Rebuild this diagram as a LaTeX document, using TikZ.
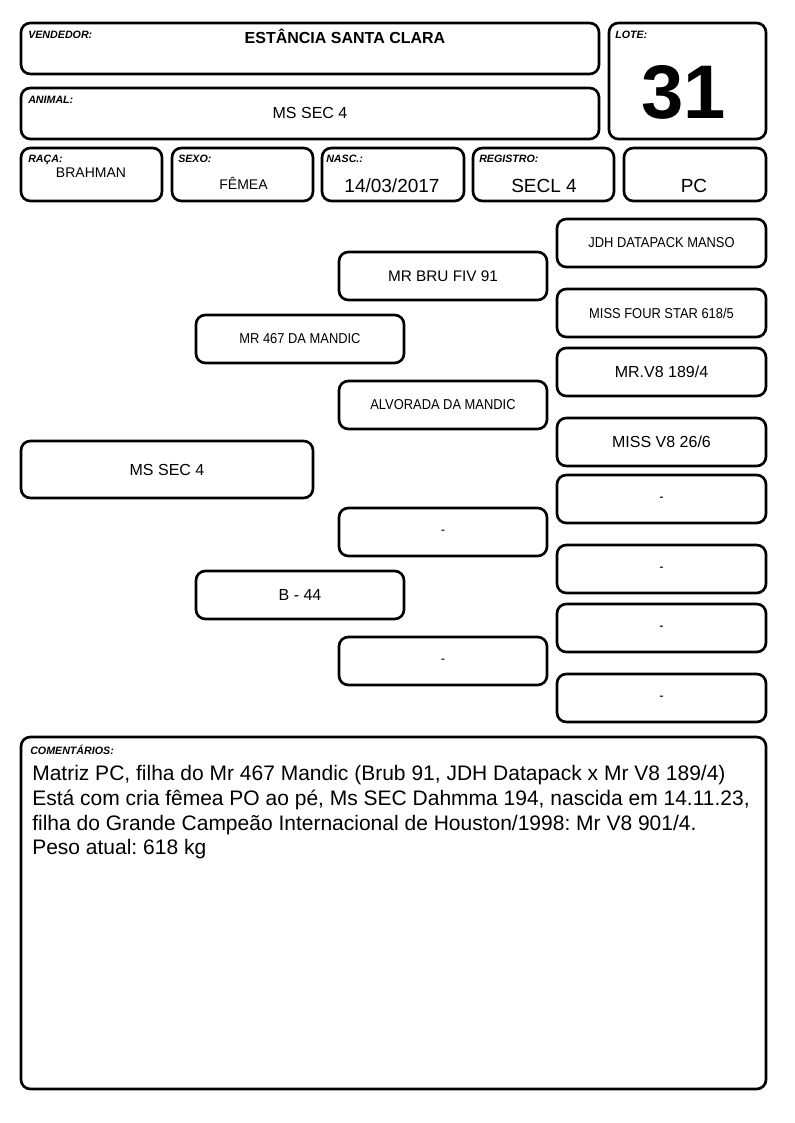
\documentclass[tikz,border=0pt]{standalone}
\usepackage{fontspec}
\setmainfont{Liberation Sans}
\newfontfamily\narrowfont[FakeStretch=0.9]{Liberation Sans}
\usetikzlibrary{positioning}
\frenchspacing

\tikzset{
  cell/.style={draw, rounded corners=7pt, line width=2pt, inner sep=0pt},
  tag/.style={anchor=north west, inner sep=0pt, font=\fontsize{8}{9.6}\selectfont\bfseries\itshape},
  val/.style={anchor=base, inner sep=0pt},
  ped/.style={cell, minimum width=156pt, minimum height=36pt},
  pedwide/.style={cell, minimum width=219pt, minimum height=42.75pt},
  pedright/.style={cell, minimum width=156.75pt, minimum height=36pt},
  namesm/.style={font=\narrowfont\fontsize{10.75}{12}\selectfont},
  namelg/.style={font=\fontsize{12}{14}\selectfont},
}

\begin{document}
\begin{tikzpicture}[x=.75pt, y=-.75pt]
            \useasboundingbox (0,0) rectangle (794,1123);
            % cabecalho
            \node[cell, minimum width=433.5pt, minimum height=38.25pt] (vendbox) at (310,48.5) {};
            \node[cell, minimum width=433.5pt, minimum height=38.25pt] (animbox) at (310,113.5) {};
            \node[cell, minimum width=117.75pt, minimum height=87pt] (lotebox) at (687.5,81) {};
            \node[tag] (vendtag) at (28,31) {VENDEDOR:};
            \node[tag] (animtag) at (28,96) {ANIMAL:};
            \node[tag] (lotetag) at (615,31) {LOTE:};
            \node[val, font=\fontsize{12}{14}\selectfont\bfseries] (vend) at (345,44) {ESTÂNCIA SANTA CLARA};
            \node[val, namelg] (anim) at (310,118.5) {MS SEC 4};
            \node[val, font=\fontsize{57}{60}\selectfont\bfseries] (lote) at (684,118.3) {31};
            % dados
            \node[cell, minimum width=105.75pt, minimum height=39.75pt] (racabox) at (91.5,174.5) {};
            \node[cell, minimum width=105.75pt, minimum height=39.75pt] (sexobox) at (242.5,174.5) {};
            \node[cell, minimum width=106.5pt, minimum height=39.75pt] (nascbox) at (393,174.5) {};
            \node[cell, minimum width=105.75pt, minimum height=39.75pt] (regbox) at (543.5,174.5) {};
            \node[cell, minimum width=106.5pt, minimum height=39.75pt] (pcbox) at (695,174.5) {};
            \node[tag] (racatag) at (28,155) {RAÇA:};
            \node[tag] (sexotag) at (178,155) {SEXO:};
            \node[tag] (nasctag) at (326,155) {NASC.:};
            \node[tag] (regtag) at (479,155) {REGISTRO:};
            \node[val, font=\fontsize{10.5}{12}\selectfont] (raca) at (91,178) {BRAHMAN};
            \node[val, font=\fontsize{10.5}{12}\selectfont] (sexo) at (243.5,190) {FÊMEA};
            \node[val, font=\fontsize{14.25}{16}\selectfont] (nasc) at (392,193) {14/03/2017};
            \node[val, font=\fontsize{14.25}{16}\selectfont] (reg) at (544,192.5) {SECL 4};
            \node[val, font=\fontsize{14.25}{16}\selectfont] (pc) at (694,192.5) {PC};
            % genealogia
            \node[pedwide, namelg] (animal) at (167,469.5) {MS SEC 4};
            \node[ped, namesm] (pai) at (300,339) {MR 467 DA MANDIC};
            \node[ped, namelg] (mae) at (300,595) {B - 44};
            \node[ped, font=\fontsize{11.5}{13}\selectfont] (avopp) at (443,276) {MR BRU FIV 91};
            \node[ped, namesm] (avopm) at (443,405) {ALVORADA DA MANDIC};
            \node[ped, namesm] (avomp) at (443,532) {-};
            \node[ped, namesm] (avomm) at (443,661) {-};
            \node[pedright, namesm] (bis1) at (661.5,243) {JDH DATAPACK MANSO};
            \node[pedright, namesm] (bis2) at (661.5,313) {MISS FOUR STAR 618/5};
            \node[pedright, namelg] (bis3) at (661.5,372) {MR.V8 189/4};
            \node[pedright, namelg] (bis4) at (661.5,442) {MISS V8 26/6};
            \node[pedright, namesm] (bis5) at (661.5,499) {-};
            \node[pedright, namesm] (bis6) at (661.5,569) {-};
            \node[pedright, namesm] (bis7) at (661.5,628) {-};
            \node[pedright, namesm] (bis8) at (661.5,698) {-};
            % comentarios
            \node[cell, minimum width=558.75pt, minimum height=264pt] (comentbox) at (393.5,913) {};
            \node[tag] (comenttag) at (30,745) {COMENTÁRIOS:};
            \node[anchor=north west, align=left, inner sep=0pt, font=\fontsize{15.75}{18.4}\selectfont] (coment) at (32,765.5)
              {Matriz PC, filha do Mr 467 Mandic (Brub 91, JDH Datapack x Mr V8 189/4)\\
               Está com cria fêmea PO ao pé, Ms SEC Dahmma 194, nascida em 14.11.23,\\
               filha do Grande Campeão Internacional de Houston/1998: Mr V8 901/4.\\
               Peso atual: 618 kg};
        \end{tikzpicture}
\end{document}
